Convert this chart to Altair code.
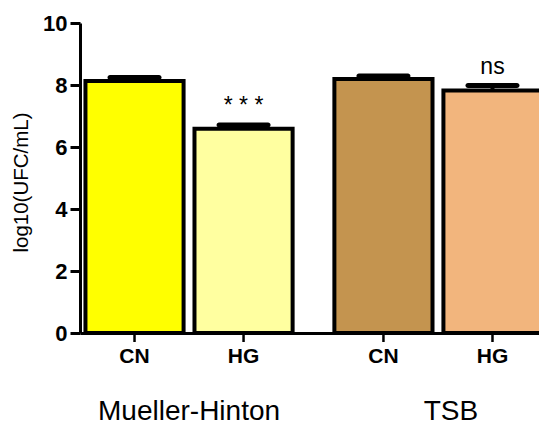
import altair as alt
import pandas as pd

groups = ["Mueller-Hinton", "Mueller-Hinton", "TSB", "TSB"]
conditions = ["CN", "HG", "CN", "HG"]
means = [8.13, 6.59, 8.19, 7.82]
errors = [0.11, 0.12, 0.10, 0.16]
signif = ["", "* * *", "", "ns"]
bar_keys = ["MH-CN", "MH-HG", "TSB-CN", "TSB-HG"]
bar_colors = ["#FFFF00", "#FFFFA0", "#C4944F", "#F2B57D"]
group_names = ["Mueller-Hinton", "TSB"]
y_ticks = [0, 2, 4, 6, 8, 10]

df = pd.DataFrame({
    "group": groups,
    "cond": conditions,
    "mean": means,
    "err": errors,
    "sig": signif,
    "key": bar_keys,
})
df["upper"] = df["mean"] + df["err"]

FONT = "Liberation Sans"

x_enc = alt.X("group:N", scale=alt.Scale(domain=group_names, paddingInner=0.124,
                                          paddingOuter=0, range=[0, 467]),
              axis=alt.Axis(labels=False, ticks=False, title=None, domainWidth=3,
                            domainColor="black"))
xo_enc = alt.XOffset("cond:N", scale=alt.Scale(domain=["CN", "HG"], paddingInner=0.1,
                                                paddingOuter=0.05))
y_scale = alt.Scale(domain=[0, 10], nice=False)

base = alt.Chart(df)

bars = base.mark_bar(stroke="black", strokeWidth=4, strokeJoin="miter").encode(
    x=x_enc,
    xOffset=xo_enc,
    y=alt.Y("mean:Q", scale=y_scale,
            axis=alt.Axis(values=y_ticks, title="log10(UFC/mL)", grid=False,
                          domainWidth=3, domainColor="black", tickWidth=3,
                          tickColor="black", tickSize=10, labelFontSize=22,
                          labelFontWeight="bold", labelFont=FONT, labelColor="black",
                          labelPadding=3, titleFont=FONT, titleFontSize=20.5,
                          titleFontWeight="normal", titleColor="black",
                          titleAngle=-90, titleX=-59, titleY=159,
                          titleAlign="center", titleBaseline="middle")),
    y2=alt.datum(0),
    color=alt.Color("key:N", scale=alt.Scale(domain=bar_keys, range=bar_colors),
                    legend=None),
)

err_rule = base.mark_rule(color="black", strokeWidth=4).encode(
    x=x_enc, xOffset=xo_enc,
    y=alt.Y("mean:Q", scale=y_scale), y2="upper:Q",
)

caps = base.mark_tick(orient="horizontal", size=54, thickness=5, color="black",
                      cornerRadius=2.5, opacity=1).encode(
    x=x_enc, xOffset=xo_enc,
    y=alt.Y("upper:Q", scale=y_scale),
)

sig_text = base.mark_text(font=FONT, fontSize=23, color="black", baseline="alphabetic",
                          dy=-12).encode(
    x=x_enc, xOffset=xo_enc,
    y=alt.Y("upper:Q", scale=y_scale),
    text="sig:N",
)

x_ticks = base.mark_rule(color="black", strokeWidth=2.5).encode(
    x=x_enc, xOffset=xo_enc,
    y=alt.value(310), y2=alt.value(319),
)

x_labels = base.mark_text(font=FONT, fontSize=21, fontWeight="bold", color="black",
                          baseline="alphabetic").encode(
    x=x_enc, xOffset=xo_enc,
    y=alt.value(340),
    text="cond:N",
)

gdf = pd.DataFrame({"group": group_names})
g_mh = alt.Chart(gdf).transform_filter(alt.datum.group == "Mueller-Hinton").mark_text(
    font=FONT, fontSize=28, color="black", baseline="alphabetic").encode(
    x=x_enc, y=alt.value(397), text="group:N")
g_tsb = alt.Chart(gdf).transform_filter(alt.datum.group == "TSB").mark_text(
    font=FONT, fontSize=28, color="black", baseline="alphabetic", dx=13).encode(
    x=x_enc, y=alt.value(397), text="group:N")

chart = alt.layer(bars, err_rule, caps, sig_text, x_ticks, x_labels, g_mh, g_tsb).properties(
    width=459, height=310,
    autosize=alt.AutoSizeParams(type="none"),
    padding={"left": 80, "top": 23, "right": 0, "bottom": 94},
    background="white",
).configure_view(stroke=None)

chart.save("out.html", embed_options={"renderer": "svg", "actions": False})
